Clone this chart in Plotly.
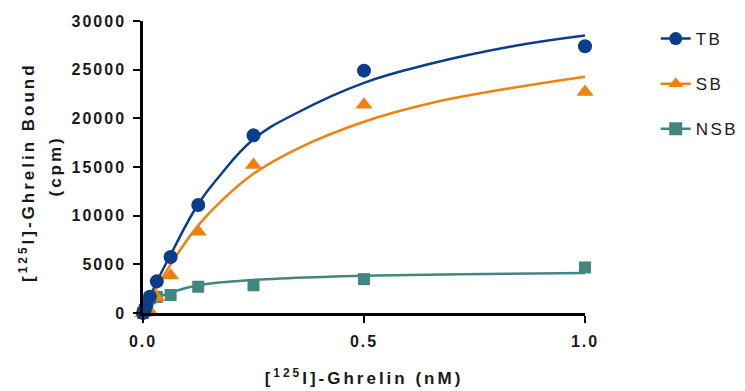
import plotly.graph_objects as go

# ---- data ----
conc = [0, 0.0039, 0.0078, 0.0156, 0.03125, 0.0625, 0.125, 0.25, 0.5, 1.0]
tb_vals = [0, 300, 820, 1675, 3250, 5750, 11100, 18250, 24900, 27400]
sb_vals = [0, 50, 120, 180, 1600, 3850, 8350, 15200, 21400, 22700]
nsb_vals = [0, 300, 700, 1500, 1650, 1850, 2700, 2850, 3480, 4680]

# fitted curves
tb_fit_x = [0, 0.03125, 0.0625, 0.125, 0.17, 0.25, 0.35, 0.5, 0.65, 0.83, 1.0]
tb_fit_y = [0, 3200, 6000, 11200, 13900, 17850, 20600, 23650, 25600, 27350, 28500]
sb_fit_x = [0, 0.03125, 0.0625, 0.125, 0.177, 0.25, 0.35, 0.5, 0.65, 0.83, 1.0]
sb_fit_y = [0, 2600, 5000, 9000, 11500, 14300, 16900, 19650, 21550, 23080, 24280]
nsb_fit_x = [0, 0.0156, 0.03125, 0.0625, 0.125, 0.25, 0.42, 0.5, 0.72, 1.0]
nsb_fit_y = [0, 900, 1500, 2100, 2850, 3400, 3730, 3820, 3980, 4100]

x_ticks = [0, 0.5, 1.0]
x_tick_labels = ["0.0", "0.5", "1.0"]
y_ticks = [0, 5000, 10000, 15000, 20000, 25000, 30000]
y_tick_labels = ["0", "5000", "10000", "15000", "20000", "25000", "30000"]

series_names = ["TB", "SB", "NSB"]
y_title_lines = ["[<sup>125</sup>I]-Ghrelin Bound", "(cpm)"]
x_title = "[<sup>125</sup>I]-Ghrelin (nM)"

# ---- styles ----
C_TB = "#0b3d8c"
C_SB = "#f08010"
C_NSB = "#428680"
FONT = "Liberation Sans, Arial, sans-serif"
TXT = "#1a1a1a"

fig = go.Figure()

curves = [(tb_fit_x, tb_fit_y, C_TB), (sb_fit_x, sb_fit_y, C_SB), (nsb_fit_x, nsb_fit_y, C_NSB)]
for cx, cy, col in curves:
    fig.add_trace(go.Scatter(x=cx, y=cy, mode="lines",
                             line=dict(color=col, width=2.5, shape="spline", smoothing=1.2),
                             showlegend=False, hoverinfo="skip", cliponaxis=False))

markers = [
    (nsb_vals, C_NSB, "square", 12),
    (sb_vals, C_SB, "triangle-up", 15),
    (tb_vals, C_TB, "circle", 14),
]
for vals, col, sym, sz in markers:
    fig.add_trace(go.Scatter(x=conc, y=vals, mode="markers",
                             marker=dict(color=col, symbol=sym, size=sz, line=dict(width=0)),
                             showlegend=False, cliponaxis=False))

# legend entries
leg = [(series_names[0], C_TB, "circle"), (series_names[1], C_SB, "triangle-up"), (series_names[2], C_NSB, "square")]
for name, col, sym in leg:
    fig.add_trace(go.Scatter(x=[None], y=[None], mode="lines+markers", name=name, legendgroup=name,
                             line=dict(color=col, width=2.5),
                             marker=dict(color=col, symbol=sym, size=13)))

fig.update_layout(
    width=745, height=391,
    margin=dict(l=143, r=160, t=21, b=78, autoexpand=False),
    paper_bgcolor="white", plot_bgcolor="white",
    font=dict(family=FONT, color=TXT),
    showlegend=True,
    legend=dict(x=1.16, y=1.0, xanchor="left", yanchor="top", tracegroupgap=20,
                font=dict(size=17, color=TXT), bgcolor="rgba(0,0,0,0)"),
    xaxis=dict(range=[0, 1.0], showgrid=False, zeroline=False, showline=True, linecolor="black", linewidth=2.5,
               ticks="outside", ticklen=7, tickwidth=2, tickcolor="black", ticklabelstandoff=5,
               tickvals=x_ticks, ticktext=x_tick_labels,
               tickfont=dict(size=16, family=FONT, weight="bold", color=TXT),
               title=dict(text=x_title, standoff=24,
                          font=dict(size=17, family=FONT, weight="bold", color=TXT))),
    yaxis=dict(range=[0, 30000], showgrid=False, zeroline=False, showline=True, linecolor="black", linewidth=2.5,
               ticks="outside", ticklen=7, tickwidth=2, tickcolor="black", ticklabelstandoff=4,
               tickvals=y_ticks, ticktext=y_tick_labels,
               tickfont=dict(size=16, family=FONT, weight="bold", color=TXT)),
)

# y axis title as two rotated lines
for txt, xpx, ypx in [(y_title_lines[0], 27, 172), (y_title_lines[1], 55, 166)]:
    fig.add_annotation(text=txt, xref="paper", yref="paper",
                       x=(xpx - 143) / 442, y=(313 - ypx) / 292,
                       xanchor="center", yanchor="middle", textangle=-90, showarrow=False,
                       font=dict(size=17, family=FONT, weight="bold", color=TXT))

post = """
document.body.style.margin='0';
document.body.style.padding='0';
var gd = document.getElementById('{plot_id}');
function sp(){
  gd.querySelectorAll('.xtick text, .ytick text').forEach(function(t){ t.style.letterSpacing='2px'; });
  gd.querySelectorAll('.g-xtitle text, .annotation-text').forEach(function(t){ t.style.letterSpacing='3px'; });
  gd.querySelectorAll('.legendtext').forEach(function(t){ t.style.letterSpacing='2.5px'; });
}
sp();
gd.on('plotly_afterplot', sp);
"""
fig.write_html("out.html", post_script=post, config={"displayModeBar": False})
